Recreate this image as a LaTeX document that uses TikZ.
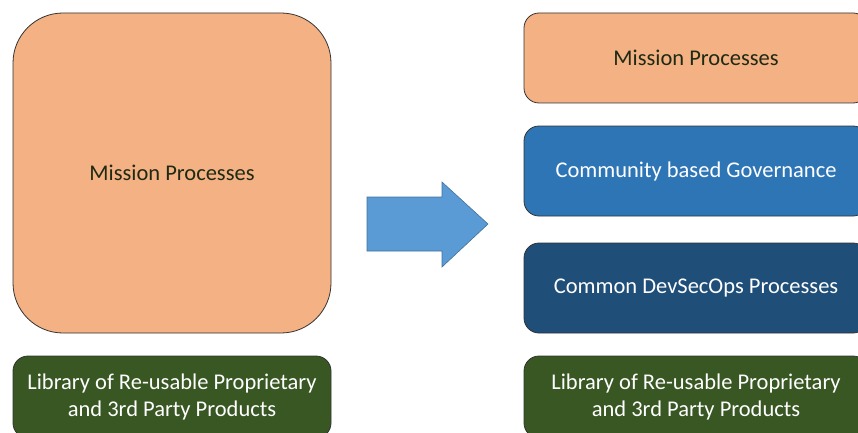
\documentclass[tikz,border=0pt]{standalone}
\usepackage{fontspec}
\setmainfont{Carlito}
\definecolor{orangefill}{HTML}{F4B183}
\definecolor{bluefill}{HTML}{2E75B6}
\definecolor{navyfill}{HTML}{1F4E79}
\definecolor{greenfill}{HTML}{385723}
\definecolor{arrowfill}{HTML}{5B9BD5}
\definecolor{arrowline}{HTML}{41719C}
\definecolor{darktext}{HTML}{1E2A14}
\begin{document}
\begin{tikzpicture}[x=1pt,y=-1pt,
  box/.style={draw=black!80, line width=0.8pt, rounded corners=15pt, align=center,
    font=\fontsize{22.5}{27}\selectfont, inner sep=0pt},
  orangebox/.style={box, fill=orangefill, text=darktext},
  bluebox/.style={box, fill=bluefill, text=white},
  navybox/.style={box, fill=navyfill, text=white},
  greenbox/.style={box, fill=greenfill, text=white}]
\useasboundingbox (0,0) rectangle (858,433);
\clip (0,0) rectangle (858,433);
% left column
\node[orangebox, rounded corners=50pt, minimum width=318pt, minimum height=320pt] (lmission) at (172,173) {Mission Processes};
\node[greenbox, minimum width=318pt, minimum height=82pt] (llib) at (172,397) {Library of Re-usable Proprietary\\and 3rd Party Products};
% right column
\node[orangebox, minimum width=344pt, minimum height=90pt] (rmission) at (696,58) {Mission Processes};
\node[bluebox, minimum width=344pt, minimum height=90pt] (rgov) at (696,171) {Community based Governance};
\node[navybox, minimum width=344pt, minimum height=90pt] (rdev) at (696,288) {Common DevSecOps Processes};
\node[greenbox, minimum width=344pt, minimum height=82pt] (rlib) at (696,397) {Library of Re-usable Proprietary\\and 3rd Party Products};
% arrow
\draw[fill=arrowfill, draw=arrowline, line width=0.6pt]
  (367,197) -- (442,197) -- (442,182) -- (488,224) -- (442,267) -- (442,251) -- (367,251) -- cycle;
\end{tikzpicture}
\end{document}
